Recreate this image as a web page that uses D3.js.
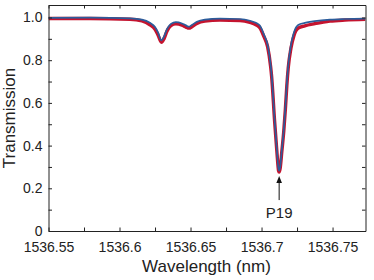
<!DOCTYPE html>
<html>
<head>
<meta charset="utf-8">
<script src="https://cdn.jsdelivr.net/npm/d3@7"></script>
<style>
  body { margin: 0; background: #fff; }
  text { font-family: "Liberation Sans", Arial, sans-serif; fill: #222; }
</style>
</head>
<body>
<script>
"use strict";

// data
var wavelength = [1536.5500, 1536.5792, 1536.6074, 1536.6158, 1536.6214, 1536.6250, 1536.6271, 1536.6295,
    1536.6313, 1536.6334, 1536.6362, 1536.6397, 1536.6440, 1536.6468, 1536.6489, 1536.6510, 1536.6545,
    1536.6601, 1536.6707, 1536.6848, 1536.6918, 1536.6960, 1536.6988, 1536.7017, 1536.7043, 1536.7064,
    1536.7071, 1536.7092, 1536.7108, 1536.7120, 1536.7124, 1536.7131, 1536.7143, 1536.7156, 1536.7168,
    1536.7178, 1536.7188, 1536.7207, 1536.7228, 1536.7258, 1536.7305, 1536.7375, 1536.7481, 1536.7587,
    1536.7732];
// fitted curve (blue)
var fitT = [0.998, 0.999, 0.996, 0.990, 0.975, 0.955, 0.930, 0.893, 0.910, 0.945, 0.970, 0.978, 0.972,
    0.963, 0.957, 0.965, 0.980, 0.990, 0.995, 0.993, 0.985, 0.975, 0.962, 0.920, 0.871, 0.778, 0.731,
    0.520, 0.379, 0.290, 0.283, 0.300, 0.380, 0.470, 0.580, 0.690, 0.775, 0.871, 0.930, 0.965, 0.975,
    0.983, 0.990, 0.993, 0.995];
// measured (red)
var measT = [0.995, 0.995, 0.992, 0.984, 0.966, 0.945, 0.918, 0.884, 0.900, 0.936, 0.962, 0.970, 0.964,
    0.955, 0.950, 0.957, 0.972, 0.983, 0.988, 0.986, 0.977, 0.966, 0.952, 0.910, 0.862, 0.770, 0.724,
    0.515, 0.372, 0.282, 0.276, 0.293, 0.373, 0.463, 0.572, 0.680, 0.764, 0.856, 0.915, 0.950, 0.961,
    0.971, 0.983, 0.988, 0.991];
var xTicks = [1536.55, 1536.575, 1536.6, 1536.625, 1536.65, 1536.675, 1536.7, 1536.725, 1536.75];
var xLabels = ["1536.55", "", "1536.6", "", "1536.65", "", "1536.7", "", "1536.75"];
var yTicks = [0, 0.1, 0.2, 0.3, 0.4, 0.5, 0.6, 0.7, 0.8, 0.9, 1.0];
var yLabels = ["0", "", "0.2", "", "0.4", "", "0.6", "", "0.8", "", "1.0"];
var peakName = "P19";
var peakIndex = 30;

var W = 374, H = 280;
var pLeft = 48.5, pRight = 365.5, pTop = 5, pBottom = 231;

var x = d3.scaleLinear().domain([1536.55, 1536.7732]).range([pLeft, pRight]);
var y = d3.scaleLinear().domain([0, 1.0585]).range([pBottom, pTop]);

var svg = d3.select("body").append("svg").attr("width", W).attr("height", H);

var pts = function(vals) {
    return wavelength.map(function(w, i) { return [w, vals[i]]; });
};
var line = d3.line()
    .x(function(d) { return x(d[0]); })
    .y(function(d) { return y(d[1]); })
    .curve(d3.curveMonotoneX);

svg.append("defs").append("clipPath").attr("id", "clip")
    .append("rect").attr("x", pLeft).attr("y", pTop)
    .attr("width", pRight - pLeft).attr("height", pBottom - pTop);

var plot = svg.append("g").attr("clip-path", "url(#clip)");

plot.append("path")
    .attr("d", line(pts(measT)))
    .attr("fill", "none")
    .attr("stroke", "#c4142f")
    .attr("stroke-width", 3.4)
    .attr("stroke-linejoin", "round");

plot.append("path")
    .attr("d", line(pts(fitT)))
    .attr("fill", "none")
    .attr("stroke", "#2b5c9b")
    .attr("stroke-width", 1.7);

// axes
var tickLen = 3.5;
var axB = svg.append("g").attr("transform", "translate(0," + pBottom + ")")
    .call(d3.axisBottom(x).tickValues(xTicks).tickSizeInner(-tickLen).tickSizeOuter(0)
        .tickFormat(function(d, i) { return xLabels[i]; }));
var axT = svg.append("g").attr("transform", "translate(0," + pTop + ")")
    .call(d3.axisTop(x).tickValues(xTicks).tickSizeInner(-tickLen).tickSizeOuter(0).tickFormat(""));
var axL = svg.append("g").attr("transform", "translate(" + pLeft + ",0)")
    .call(d3.axisLeft(y).tickValues(yTicks).tickSizeInner(-tickLen).tickSizeOuter(0)
        .tickFormat(function(d, i) { return yLabels[i]; }));
var axR = svg.append("g").attr("transform", "translate(" + pRight + ",0)")
    .call(d3.axisRight(y).tickValues(yTicks).tickSizeInner(-tickLen).tickSizeOuter(0).tickFormat(""));

[axB, axT, axL, axR].forEach(function(a) {
    a.selectAll("path, line").attr("stroke", "#222").attr("stroke-width", 1);
    a.selectAll("text").style("font-size", "14px").attr("fill", "#222")
        .style("font-family", "'Liberation Sans', Arial, sans-serif");
});
axB.selectAll("text").attr("dy", "0.71em").attr("y", 11);
axL.selectAll("text").attr("x", -6);

// axis titles
svg.append("text")
    .attr("x", 206.5).attr("y", 272)
    .attr("text-anchor", "middle").style("font-size", "17px")
    .text("Wavelength (nm)");
svg.append("text")
    .attr("transform", "translate(15," + ((pTop + pBottom) / 2) + ") rotate(-90)")
    .attr("text-anchor", "middle").style("font-size", "17px")
    .text("Transmission");

// annotation arrow
var ax = x(wavelength[peakIndex]);
var ay = y(measT[peakIndex]);
svg.append("line")
    .attr("x1", ax).attr("x2", ax)
    .attr("y1", ay + 28).attr("y2", ay + 9)
    .attr("stroke", "#111").attr("stroke-width", 1);
svg.append("path")
    .attr("d", "M" + ax + "," + (ay + 4) + "L" + (ax - 2.8) + "," + (ay + 11) + "L" + (ax + 2.8) + "," + (ay + 11) + "Z")
    .attr("fill", "#111");
svg.append("text")
    .attr("x", ax).attr("y", ay + 46)
    .attr("text-anchor", "middle").style("font-size", "15px")
    .text(peakName);
</script>
</body>
</html>
